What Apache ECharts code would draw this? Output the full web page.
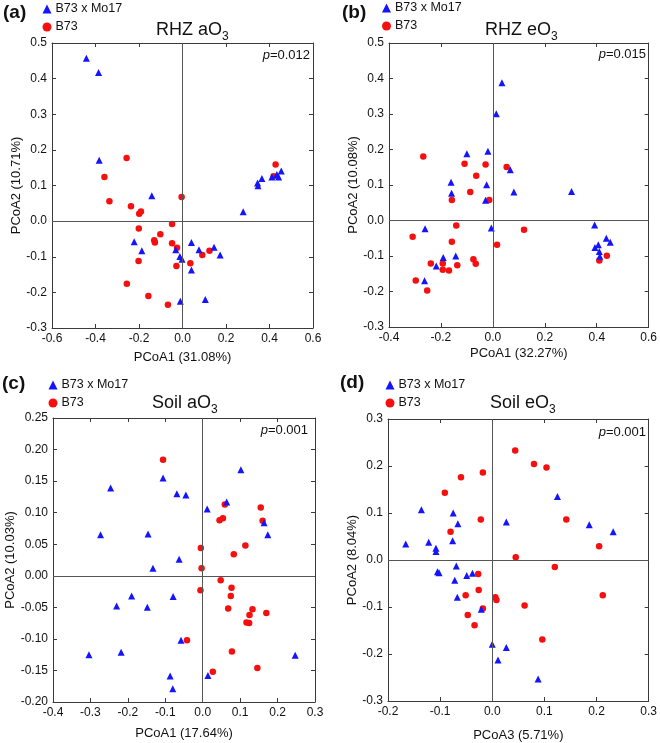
<!DOCTYPE html>
<html>
<head>
<meta charset="utf-8">
<script src="https://cdn.jsdelivr.net/npm/echarts@6/dist/echarts.min.js"></script>
<style>
html,body{margin:0;padding:0;background:#fff;}
#c{width:660px;height:743px;}
</style>
</head>
<body>
<div id="c"></div>
<script>
// ---- DATA ----
const seriesNames = ['B73 x Mo17', 'B73'];

// (a) RHZ aO3
const aHybrid = [[-0.442,0.457],[-0.386,0.417],[-0.383,0.171],[-0.141,0.071],[-0.222,-0.058],[-0.187,-0.083],[-0.031,-0.080],[-0.012,-0.099],[-0.002,-0.107],[0.041,-0.060],[0.076,-0.080],[0.041,-0.137],[0.145,-0.073],[0.173,-0.095],[-0.010,-0.225],[0.105,-0.220],[0.279,0.026],[0.345,0.107],[0.347,0.099],[0.365,0.120],[0.411,0.124],[0.434,0.131],[0.442,0.124],[0.454,0.141]];
const aB73 = [[-0.257,0.177],[-0.359,0.124],[-0.336,0.056],[-0.237,0.042],[-0.199,0.021],[-0.191,0.027],[-0.004,0.068],[-0.201,-0.021],[-0.048,-0.008],[-0.130,-0.054],[-0.127,-0.060],[-0.102,-0.037],[-0.048,-0.062],[-0.025,-0.075],[-0.202,-0.112],[-0.028,-0.126],[0.036,-0.118],[0.091,-0.095],[0.124,-0.083],[-0.256,-0.176],[-0.157,-0.210],[-0.067,-0.235],[0.428,0.159],[0.419,0.126]];

// (b) RHZ eO3
const bHybrid = [[0.035,0.388],[0.013,0.301],[-0.100,0.188],[-0.019,0.195],[-0.161,0.108],[-0.159,0.077],[-0.024,0.101],[-0.028,0.057],[0.067,0.143],[0.081,0.080],[0.303,0.082],[-0.261,-0.023],[-0.006,-0.021],[-0.191,-0.104],[-0.143,-0.100],[-0.218,-0.128],[-0.263,-0.170],[0.392,-0.013],[0.393,-0.076],[0.406,-0.068],[0.410,-0.087],[0.412,-0.101],[0.437,-0.050],[0.452,-0.061]];
const bB73 = [[-0.268,0.180],[-0.109,0.160],[-0.028,0.158],[-0.064,0.126],[-0.087,0.080],[-0.158,0.058],[-0.014,0.058],[0.053,0.151],[-0.141,-0.014],[-0.309,-0.046],[-0.158,-0.060],[0.016,-0.068],[0.120,-0.026],[-0.239,-0.121],[-0.193,-0.121],[-0.193,-0.139],[-0.169,-0.141],[-0.137,-0.126],[-0.075,-0.109],[-0.066,-0.122],[-0.297,-0.169],[-0.253,-0.197],[0.439,-0.099],[0.410,-0.113]];

// (c) Soil aO3
const cHybrid = [[-0.246,0.139],[-0.273,0.065],[-0.106,0.155],[-0.069,0.130],[-0.045,0.128],[-0.146,0.066],[-0.133,0.012],[-0.063,0.026],[0.012,0.106],[0.064,0.117],[0.102,0.168],[0.164,0.084],[0.174,0.065],[-0.190,-0.032],[-0.230,-0.048],[-0.148,-0.050],[-0.079,-0.033],[-0.058,-0.102],[-0.304,-0.125],[-0.218,-0.121],[-0.087,-0.159],[-0.080,-0.179],[0.014,-0.158],[0.247,-0.126]];
const cB73 = [[-0.106,0.184],[0.059,0.113],[0.054,0.091],[0.045,0.088],[0.155,0.108],[0.160,0.087],[0.114,0.048],[0.083,0.034],[-0.005,0.044],[-0.003,0.012],[-0.006,-0.023],[0.048,-0.007],[0.077,-0.019],[0.075,-0.032],[0.068,-0.052],[0.133,-0.053],[0.125,-0.062],[0.117,-0.074],[0.124,-0.075],[0.170,-0.059],[-0.042,-0.102],[0.078,-0.120],[0.027,-0.152],[0.146,-0.146]];

// (d) Soil eO3
const dHybrid = [[-0.136,0.107],[-0.166,0.034],[-0.122,0.038],[-0.108,0.025],[-0.108,0.018],[-0.075,0.100],[-0.066,0.077],[-0.076,0.041],[0.027,0.081],[0.125,0.135],[0.186,0.075],[0.232,0.060],[-0.105,-0.025],[-0.102,-0.027],[-0.069,-0.013],[-0.049,-0.033],[-0.038,-0.028],[-0.072,-0.043],[-0.067,-0.079],[-0.021,-0.105],[0.000,-0.179],[0.027,-0.186],[0.011,-0.213],[0.088,-0.253]];
const dB73 = [[0.044,0.233],[0.080,0.204],[0.104,0.197],[-0.060,0.176],[-0.018,0.186],[-0.091,0.143],[-0.022,0.086],[-0.080,0.060],[0.142,0.086],[0.205,0.029],[0.045,0.006],[0.120,-0.015],[-0.027,-0.030],[-0.026,-0.064],[-0.051,-0.075],[0.006,-0.079],[0.008,-0.085],[-0.018,-0.103],[-0.047,-0.117],[0.062,-0.097],[0.212,-0.075],[-0.034,-0.139],[0.096,-0.169]];

// panel texts and axis ranges
const panelLetters = ['(a)', '(b)', '(c)', '(d)'];
const panelTitles = [['RHZ aO', '3'], ['RHZ eO', '3'], ['Soil aO', '3'], ['Soil eO', '3']];
const pValues = ['0.012', '0.015', '0.001', '0.001'];
const xNames = ['PCoA1 (31.08%)', 'PCoA1 (32.27%)', 'PCoA1 (17.64%)', 'PCoA3 (5.71%)'];
const yNames = ['PCoA2 (10.71%)', 'PCoA2 (10.08%)', 'PCoA2 (10.03%)', 'PCoA2 (8.04%)'];
const xRanges = [[-0.6, 0.6, 0.2], [-0.4, 0.6, 0.2], [-0.4, 0.3, 0.1], [-0.2, 0.3, 0.1]];
const yRanges = [[-0.3, 0.5, 0.1], [-0.3, 0.5, 0.1], [-0.2, 0.25, 0.05], [-0.3, 0.3, 0.1]];
const xDecimals = [1, 1, 1, 1];
const yDecimals = [1, 1, 2, 1];

const hybridData = [aHybrid, bHybrid, cHybrid, dHybrid];
const b73Data = [aB73, bB73, cB73, dB73];

// ---- LAYOUT ----
const FONT = 'Liberation Sans, Arial, Helvetica, sans-serif';
const BLUE = '#1414ff';
const RED = '#f50f0f';
const AX = '#3a3a3a';
const grids = [
  {left: 52, top: 43, width: 261, height: 285},
  {left: 389, top: 43, width: 262, height: 284},
  {left: 53, top: 418, width: 262, height: 284},
  {left: 388, top: 419, width: 263, height: 285}
];
const xNameGap = [23, 20, 25, 28];
const yNameGap = [19, 29, 31, 29];
const letterPos = [[3, 3], [342, 3], [2, 374], [340, 373]];
const legendPos = [[42.5, 2], [382, 1], [48.5, 378], [385.5, 378]];
const titlePos = [[156, 19], [485, 19], [152, 392], [490, 392]];
const pPos = [[310, 55], [646, 54], [308, 430], [646, 432]];

const xAxis = [], yAxis = [], series = [], legend = [], title = [], graphic = [];

for (let i = 0; i < 4; i++) {
  const [xmin, xmax, xint] = xRanges[i];
  const [ymin, ymax, yint] = yRanges[i];
  const common = {
    type: 'value', gridIndex: i,
    axisLine: {show: true, onZero: false, lineStyle: {color: AX, width: 1}},
    axisTick: {show: true, inside: true, length: 4, lineStyle: {color: AX}},
    splitLine: {show: false}
  };
  xAxis.push(Object.assign({}, common, {
    min: xmin, max: xmax, interval: xint, position: 'bottom',
    name: xNames[i], nameLocation: 'middle', nameGap: xNameGap[i],
    nameTextStyle: {fontFamily: FONT, fontSize: 13, color: '#111'},
    axisLabel: {show: true, margin: 5, fontFamily: FONT, fontSize: 12, color: '#111',
      formatter: v => v.toFixed(xDecimals[i])}
  }));
  xAxis.push(Object.assign({}, common, {
    min: xmin, max: xmax, interval: xint, position: 'top',
    axisLabel: {show: false}
  }));
  yAxis.push(Object.assign({}, common, {
    min: ymin, max: ymax, interval: yint, position: 'left',
    name: yNames[i], nameLocation: 'middle', nameGap: yNameGap[i], nameRotate: 90,
    nameTextStyle: {fontFamily: FONT, fontSize: 13, color: '#111'},
    axisLabel: {show: true, margin: 5, fontFamily: FONT, fontSize: 12, color: '#111',
      formatter: v => v.toFixed(yDecimals[i])}
  }));
  yAxis.push(Object.assign({}, common, {
    min: ymin, max: ymax, interval: yint, position: 'right',
    axisLabel: {show: false}
  }));

  series.push({
    type: 'scatter', name: seriesNames[1], xAxisIndex: 2 * i, yAxisIndex: 2 * i,
    data: b73Data[i], symbol: 'circle', symbolSize: 6.5,
    itemStyle: {color: RED, opacity: 1},
    markLine: {
      silent: true, symbol: 'none', animation: false,
      label: {show: false},
      lineStyle: {color: '#555', width: 1, type: 'solid'},
      data: [{xAxis: 0}, {yAxis: 0}]
    },
    z: 2
  });
  series.push({
    type: 'scatter', name: seriesNames[0], xAxisIndex: 2 * i, yAxisIndex: 2 * i,
    data: hybridData[i], symbol: 'triangle', symbolSize: 7,
    itemStyle: {color: BLUE, opacity: 1},
    z: 3
  });

  legend.push({
    left: legendPos[i][0], top: legendPos[i][1], orient: 'vertical',
    padding: 0, itemGap: 4, itemWidth: 9, itemHeight: 9,
    data: [{name: seriesNames[0], icon: 'triangle'}, {name: seriesNames[1], icon: 'circle'}],
    textStyle: {fontFamily: FONT, fontSize: 12.5, color: '#111', lineHeight: 14, padding: [0, 0, 0, -1]},
    selectedMode: false
  });

  title.push({
    left: titlePos[i][0], top: titlePos[i][1], padding: 0,
    text: '{m|' + panelTitles[i][0] + '}{s|' + panelTitles[i][1] + '}',
    textStyle: {
      fontWeight: 'normal',
      rich: {
        m: {fontFamily: FONT, fontSize: 18, fontWeight: 'normal', color: '#111', verticalAlign: 'bottom', lineHeight: 20},
        s: {fontFamily: FONT, fontSize: 12, fontWeight: 'normal', color: '#111', verticalAlign: 'bottom', lineHeight: 20, padding: [0, 0, -4, 0]}
      }
    }
  });

  graphic.push({
    type: 'text', left: letterPos[i][0], top: letterPos[i][1],
    style: {text: panelLetters[i], font: 'bold 19px ' + FONT, fill: '#111'}
  });
  graphic.push({
    type: 'text', x: pPos[i][0], y: pPos[i][1],
    style: {
      text: '{p|p}{n|=' + pValues[i] + '}', align: 'right', verticalAlign: 'middle',
      rich: {
        p: {fontFamily: FONT, fontSize: 13, fontStyle: 'italic', fill: '#111'},
        n: {fontFamily: FONT, fontSize: 13, fill: '#111'}
      }
    }
  });
}

const chart = echarts.init(document.getElementById('c'), null, {renderer: 'canvas'});
chart.setOption({
  animation: false,
  backgroundColor: '#fff',
  grid: grids,
  xAxis: xAxis,
  yAxis: yAxis,
  legend: legend,
  title: title,
  graphic: graphic,
  series: series
});
</script>
</body>
</html>
